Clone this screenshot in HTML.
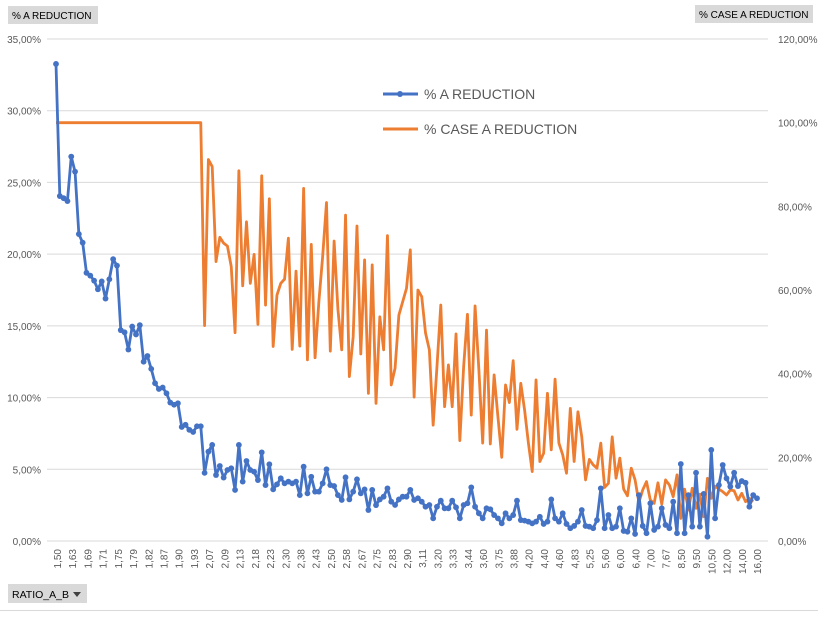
<!DOCTYPE html>
<html><head><meta charset="utf-8"><style>
body{margin:0;background:#fff;font-family:"Liberation Sans",sans-serif;}
svg text{font-family:"Liberation Sans",sans-serif;}
</style></head><body>
<svg id="chart" width="818" height="612" xmlns="http://www.w3.org/2000/svg">
<rect x="0" y="0" width="818" height="612" fill="#fff"/>
<g><rect x="8" y="6" width="90" height="18" fill="#d9d9d9"/><text x="12" y="19" font-size="10" fill="#000">% A REDUCTION</text></g>
<g><rect x="695" y="5" width="118" height="18" fill="#d9d9d9"/><text x="699" y="18" font-size="10" fill="#000">% CASE A REDUCTION</text></g>
<g><rect x="8" y="584" width="79" height="19" fill="#d9d9d9"/><text x="12" y="598" font-size="10.5" fill="#000">RATIO_A_B</text><path d="M73 592 L81 592 L77 597 Z" fill="#404040"/></g>
<line x1="0" y1="610.5" x2="818" y2="610.5" stroke="#d9d9d9"/>
<g id="grid"></g><g id="ticks"></g><g id="series"></g>
<g>
<g><line x1="383" y1="94" x2="418" y2="94" stroke="#4472c4" stroke-width="3"/><circle cx="400" cy="94" r="3" fill="#4472c4"/><text x="424" y="99" font-size="14" fill="#595959">% A REDUCTION</text></g>
<g><line x1="383" y1="129" x2="418" y2="129" stroke="#ed7d31" stroke-width="3"/><text x="424" y="134" font-size="14" fill="#595959">% CASE A REDUCTION</text></g>
</g>
</svg>
<script>
const xLabels=["1,50","1,63","1,69","1,71","1,75","1,79","1,82","1,87","1,90","1,93","2,07","2,09","2,13","2,18","2,23","2,30","2,38","2,43","2,50","2,58","2,67","2,75","2,83","2,90","3,11","3,20","3,33","3,44","3,60","3,75","3,88","4,20","4,40","4,60","4,83","5,25","5,60","6,00","6,40","7,00","7,67","8,50","9,50","10,50","12,00","14,00","16,00"];
const leftTicks=["0,00%","5,00%","10,00%","15,00%","20,00%","25,00%","30,00%","35,00%"];
const rightTicks=["0,00%","20,00%","40,00%","60,00%","80,00%","100,00%","120,00%"];
const aReduction=[33.26,24.05,23.9,23.7,26.8,25.75,21.4,20.8,18.7,18.5,18.15,17.55,18.1,16.9,18.25,19.65,19.2,14.7,14.55,13.35,14.95,14.4,15.05,12.5,12.9,12.0,11.0,10.6,10.7,10.3,9.65,9.5,9.6,7.95,8.1,7.75,7.6,8.0,8.0,
4.75,6.23,6.7,4.6,5.23,4.42,4.95,5.07,3.56,6.7,4.14,5.58,4.95,4.83,4.25,6.18,3.9,5.35,3.6,3.95,4.37,4.02,4.14,4.02,4.14,3.2,5.18,3.32,4.48,3.44,3.44,4.02,5.0,3.9,3.83,3.2,2.86,4.44,2.9,3.44,4.3,3.32,3.6,2.16,3.56,2.5,
2.9,3.09,3.67,2.74,2.51,2.9,3.09,3.09,3.56,2.86,2.98,2.74,2.39,2.51,1.58,2.39,2.81,2.28,2.28,2.81,2.35,1.58,2.51,2.63,3.74,2.39,1.93,1.58,2.28,2.21,1.81,1.58,1.23,1.93,1.58,1.81,2.81,1.46,1.42,1.35,1.23,1.35,1.69,1.19,1.35,2.9,1.58,1.35,1.93,1.19,0.89,
1.05,1.35,2.16,1.05,1.0,0.89,1.46,3.67,0.89,1.81,0.89,1.0,2.28,0.7,0.65,1.58,0.49,3.2,1.05,0.54,2.63,0.77,1.0,2.28,1.12,0.89,2.74,0.54,5.37,0.54,3.2,1.0,4.76,1.0,3.28,0.3,6.35,1.58,3.9,5.3,4.37,3.79,4.76,3.83,4.18,4.06,2.39,3.2,2.98];
const caseAReduction=[100,100,100,100,100,100,100,100,100,100,100,100,100,100,100,100,100,100,100,100,100,100,100,100,100,100,100,100,100,100,100,100,100,100,100,100,100,100,100,
51.5,91.2,89.5,66.8,72.6,71.2,70.5,65.6,49.8,88.5,61.0,76.3,61.6,68.5,51.8,87.3,56.4,81.8,46.5,58.8,61.6,62.6,72.4,45.8,64.5,46.6,84.3,43.3,70.9,43.8,57.2,68.1,80.9,45.4,71.7,55.4,45.7,77.9,39.3,48.8,75.3,44.7,67.2,35.3,66.0,32.9,
53.6,45.7,73,37.3,41.3,54.0,57.2,60.4,69.6,34.4,60.0,58.4,49.7,45.7,27.7,41.7,56.4,32.1,42.1,32.1,49.5,24.0,41.7,54.2,30.1,56.2,40.9,23.4,50.4,23.2,39.7,29.7,20.0,37.3,33.1,43.1,26.7,37.7,31.3,23.4,16.6,38.5,19.0,21.0,35.3,21.8,38.7,23.4,20.6,16.2,
31.7,19.0,30.9,24.9,14.6,19.5,18.2,17.4,23.4,12.8,13.8,24.9,15.0,19.8,12.4,10.8,17.4,14.6,9.2,12.2,14.2,9.8,9.0,13.9,8.8,14.6,13.4,10.6,15.8,5.4,12.4,7.4,12.6,7.8,11.2,5.8,15.0,10.2,13.1,12.4,11.8,11.0,12.2,12.0,9.8,11.4,9.4,10.2,9.4];

const NS="http://www.w3.org/2000/svg";
const X0=56,X1=757,Y0=541,Y1=39;
const n=aReduction.length;
function xs(i){return X0+(X1-X0)*i/(n-1);}
function xl(i){return 57+(757-57)*i/(xLabels.length-1);}
function yl(v){return Y0-(Y0-Y1)*v/35;}
function yr(v){return Y0-(Y0-Y1)*v/120;}
function mk(tag,attrs,parent){const e=document.createElementNS(NS,tag);for(const k in attrs)e.setAttribute(k,attrs[k]);parent.appendChild(e);return e;}
const grid=document.getElementById('grid'),ticks=document.getElementById('ticks'),series=document.getElementById('series');
leftTicks.forEach((t,i)=>{const y=yl(i*5);
 const g=mk('line',{x1:47,x2:768,y1:y,y2:y,stroke:'#d9d9d9','stroke-width':1},grid);
 
 
 const tx=mk('text',{x:41,y:y+4,'font-size':10,fill:'#595959','text-anchor':'end'},ticks);tx.textContent=t;
 
 
});
rightTicks.forEach((t,i)=>{const y=yr(i*20);
 const tx=mk('text',{x:778,y:y+4,'font-size':10,fill:'#595959'},ticks);tx.textContent=t;
 
 
});
xLabels.forEach((t,i)=>{const x=xl(i)+4,y=549;
 const tx=mk('text',{x:x,y:y,'font-size':10,fill:'#595959','text-anchor':'end',transform:`rotate(-90 ${x} ${y})`},ticks);tx.textContent=t;
 
 
});
const op=mk('polyline',{points:caseAReduction.map((v,i)=>xs(i)+','+yr(v)).join(' '),fill:'none',stroke:'#ed7d31','stroke-width':2.8,'stroke-linejoin':'round'},series);


const bp=mk('polyline',{points:aReduction.map((v,i)=>xs(i)+','+yl(v)).join(' '),fill:'none',stroke:'#4472c4','stroke-width':2.8,'stroke-linejoin':'round'},series);


aReduction.forEach((v,i)=>{const c=mk('circle',{cx:xs(i),cy:yl(v),r:2.9,fill:'#4472c4'},series);
 
 
});
</script>
</body></html>
